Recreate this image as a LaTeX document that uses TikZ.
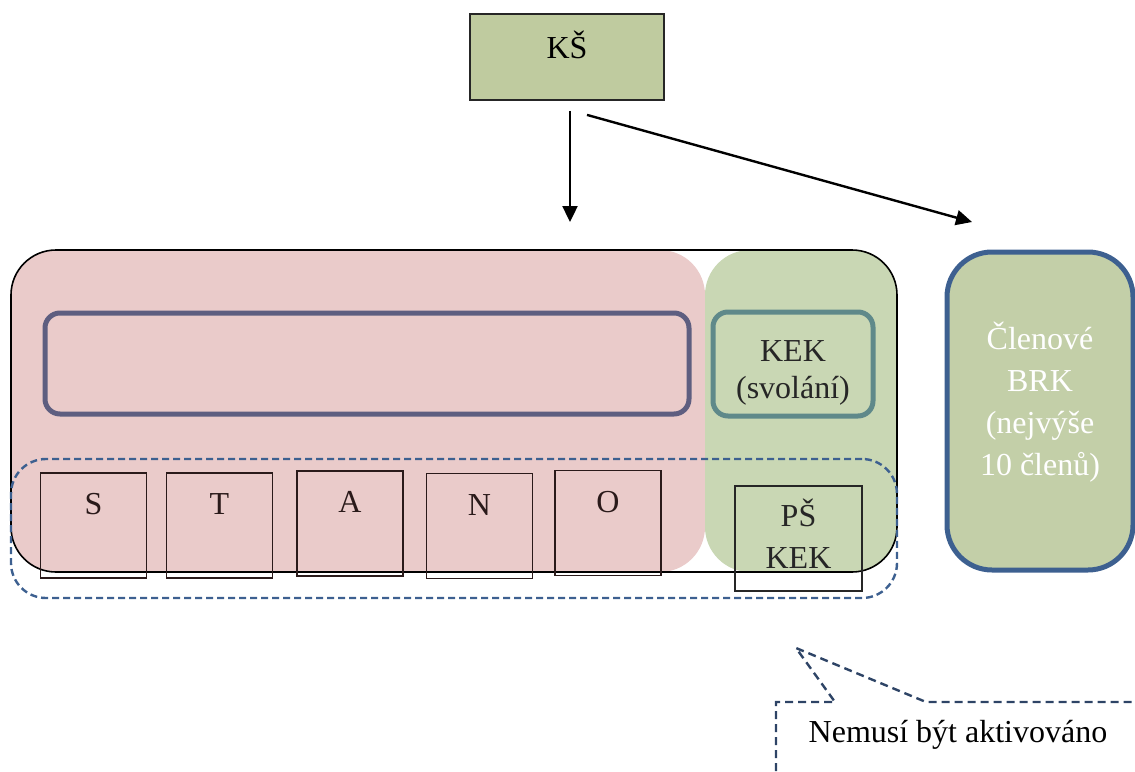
\documentclass[tikz,border=0pt]{standalone}
\usepackage{fontspec}
\setmainfont{Liberation Serif}
\usepackage{xcolor}
\usepackage{tikz}
\usetikzlibrary{arrows.meta}

\definecolor{ksgreen}{HTML}{BFCB9F}
\definecolor{zonepink}{HTML}{EACBCA}
\definecolor{zonegreen}{HTML}{C9D7B4}
\definecolor{brkgreen}{HTML}{C3CFA8}
\definecolor{boardline}{HTML}{5E5E80}
\definecolor{kekline}{HTML}{5F898A}
\definecolor{brkline}{HTML}{3D6090}
\definecolor{noteline}{HTML}{2E4466}
\definecolor{inkdark}{HTML}{2A1A1A}

\tikzset{
  every node/.style={font=\fontsize{32}{42}\selectfont, inner sep=0pt},
  ksbox/.style={draw=black!85, line width=1.8, fill=ksgreen, minimum width=194, minimum height=86, text height=22, text depth=20},
  zone/.style={rounded corners=45, minimum height=322},
  frame/.style={draw=black, line width=1.6, rounded corners=45, minimum width=886, minimum height=322},
  board/.style={draw=boardline, line width=5, rounded corners=15, minimum width=644, minimum height=101},
  kekbox/.style={draw=kekline, line width=5, rounded corners=15, minimum width=160, minimum height=104, align=center, font=\fontsize{32}{37}\selectfont, text=black!85},
  letterbox/.style={draw=inkdark, line width=1.8, minimum width=106, minimum height=105, text=inkdark, text height=22, text depth=44},
  pskbox/.style={draw=black!85, line width=1.8, minimum width=127, minimum height=105, align=center, text=black!85},
  dashzone/.style={draw=brkline, line width=2.4, dash pattern=on 7pt off 4pt, rounded corners=35, minimum width=886, minimum height=139},
  brkbox/.style={draw=brkline, line width=5, fill=brkgreen, rounded corners=45, minimum width=186, minimum height=318, align=center, text=white},
  arr/.style={line width=2.4, -{Triangle[length=16,width=15]}},
  notestyle/.style={draw=noteline, line width=2.4, dash pattern=on 8pt off 5pt}
}

\begin{document}
\begin{tikzpicture}[x=1pt, y=-1pt]
\useasboundingbox (0,0) rectangle (1135,771);

% KS on top
\node[ksbox] (ks) at (567,57) {KŠ};

% the two zones and the frame round them
\node[zone, fill=zonepink, minimum width=694] (pinkzone) at (358,411) {};
\node[zone, fill=zonegreen, minimum width=192] (greenzone) at (801,411) {};
\node[frame] (outer) at (454,411) {};

\node[board] (board) at (367,363.5) {};
\node[kekbox] (kek) at (793,364) {\rule{0pt}{38pt}KEK\\(svolání)};

% the five letters
\foreach \l/\x/\y in {S/93.5/525.5, T/219.5/525.5, A/350/523.5, N/479.5/526, O/608/523}
  \node[letterbox] (box\l) at (\x,\y) {\l};

\node[pskbox] (psk) at (798.5,538.5) {PŠ\\KEK\rule[-10pt]{0pt}{10pt}};

\node[dashzone] (dashzone) at (454,528.5) {};

% members
\node[brkbox] (brk) at (1040,411) {Členové\\BRK\\(nejvýše\\10 členů)\rule[-24pt]{0pt}{24pt}};

% arrows
\coordinate (down) at (570,222);
\coordinate (side) at (972,222);
\draw[arr, shorten <=10] (ks.south -| down) -- (down);
\draw[arr] ([xshift=20,yshift=-14]ks.south) -- (side);

% callout
\coordinate (tip) at (796,648);
\draw[notestyle] (776,771) -- (776,702) -- (835,702) -- (tip) -- (926,702) -- (1135,702);
\node (note) at (958,735) {Nemusí být aktivováno};
\end{tikzpicture}
\end{document}
